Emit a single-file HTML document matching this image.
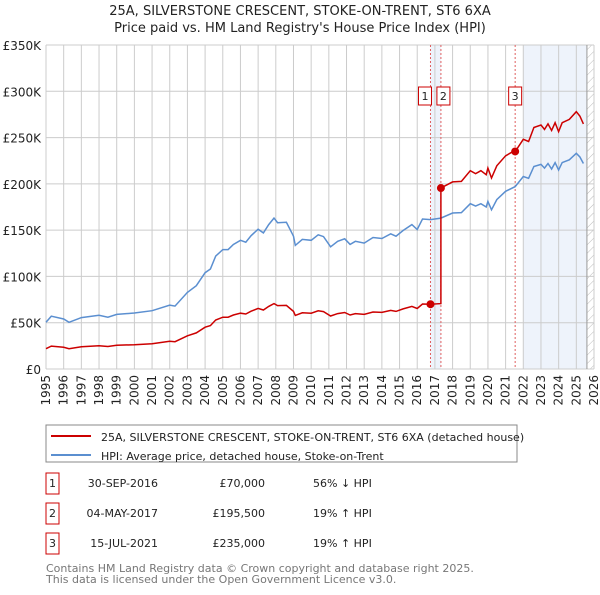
<!DOCTYPE html>
<html><head><meta charset="utf-8"><style>
body{margin:0;background:#fff;font-family:"Liberation Sans","DejaVu Sans",sans-serif;}
svg text{font-family:"DejaVu Sans","Liberation Sans",sans-serif;}
</style></head><body>
<svg id="c" width="600" height="590" xmlns="http://www.w3.org/2000/svg">
<defs><pattern id="hatch" width="6" height="6" patternUnits="userSpaceOnUse" patternTransform="rotate(45)"><line x1="0" y1="0" x2="0" y2="6" stroke="#bbb" stroke-width="1"/></pattern></defs>
<text x="300" y="15" text-anchor="middle" font-size="13" fill="#222">25A, SILVERSTONE CRESCENT, STOKE-ON-TRENT, ST6 6XA</text>
<text x="300" y="32" text-anchor="middle" font-size="13" fill="#222">Price paid vs. HM Land Registry's House Price Index (HPI)</text>
<g id="plot"></g>
<rect x="46" y="425" width="471" height="37" fill="#fff" stroke="#888"/>
<line x1="51" y1="436" x2="91" y2="436" stroke="#cc0000" stroke-width="2"/>
<text x="101" y="441" font-size="11" fill="#222">25A, SILVERSTONE CRESCENT, STOKE-ON-TRENT, ST6 6XA (detached house)</text>
<line x1="51" y1="455" x2="91" y2="455" stroke="#5b8fd0" stroke-width="2"/>
<text x="101" y="460" font-size="11" fill="#222">HPI: Average price, detached house, Stoke-on-Trent</text>
<g id="table" font-size="11" fill="#222"></g>
<text x="46" y="572" font-size="11" fill="#777">Contains HM Land Registry data © Crown copyright and database right 2025.</text>
<text x="46" y="583" font-size="11" fill="#777">This data is licensed under the Open Government Licence v3.0.</text>
</svg>
<script>
const hpiYears=[1995.0,1995.3,1996.0,1996.3,1997,1998,1998.5,1999,2000,2001,2002,2002.3,2003,2003.5,2004,2004.3,2004.6,2005,2005.3,2005.6,2006,2006.3,2006.6,2007,2007.3,2007.6,2007.9,2008.1,2008.6,2009.0,2009.1,2009.5,2010,2010.4,2010.7,2011.1,2011.5,2011.9,2012.2,2012.5,2013,2013.5,2014,2014.5,2014.8,2015.2,2015.7,2016.0,2016.3,2016.75,2017.34,2018,2018.5,2019,2019.3,2019.6,2019.9,2020.0,2020.2,2020.5,2021,2021.54,2022,2022.3,2022.6,2023,2023.2,2023.4,2023.6,2023.8,2024,2024.2,2024.6,2025,2025.2,2025.4];
const hpiValues=[50.5,57,54,50.5,55.5,58,56,59,60.5,63,69,68,82.7,90,104,108,122,129,129,134.5,139,137,144,151,147,156,163,158,158.5,143.5,133.5,140,139,145,143,132,138,140.7,134.6,138,136,142,141,146,143.5,149.6,156,150.7,162,161.4,163,168.5,169,178.6,176,178.6,175,181,172,183,192,197,208,206,218.7,221,217,222,216,223,215,223,226,233,229,222];
const saleLabels=["1","2","3"];
const saleYears=[2016.75,2017.34,2021.54];
const salePrices=[70,195.5,235];
const saleDates=["30-SEP-2016","04-MAY-2017","15-JUL-2021"];
const salePriceText=["£70,000","£195,500","£235,000"];
const saleHpiText=["56% ↓ HPI","19% ↑ HPI","19% ↑ HPI"];
const yTicks=[0,50,100,150,200,250,300,350];
const yTickLabels=["£0","£50K","£100K","£150K","£200K","£250K","£300K","£350K"];
const xTicks=[1995,1996,1997,1998,1999,2000,2001,2002,2003,2004,2005,2006,2007,2008,2009,2010,2011,2012,2013,2014,2015,2016,2017,2018,2019,2020,2021,2022,2023,2024,2025,2026];

const NS="http://www.w3.org/2000/svg";
const X0=46,X1=594,Y0=369,Y1=45;
const xs=y=>X0+(y-1995)/(2026-1995)*(X1-X0);
const ys=v=>Y0-v/350*(Y0-Y1);
const plot=document.getElementById('plot');
function el(tag,attrs,parent){const e=document.createElementNS(NS,tag);for(const k in attrs)e.setAttribute(k,attrs[k]);(parent||plot).appendChild(e);return e;}

let r=el('rect',{x:xs(saleYears[0]),y:Y1,width:xs(saleYears[1])-xs(saleYears[0]),height:Y0-Y1,fill:'#eef3fb'});


r=el('rect',{x:xs(2022),y:Y1,width:xs(2025.6)-xs(2022),height:Y0-Y1,fill:'#eef3fb'});


r=el('rect',{x:xs(2025.6),y:Y1,width:X1-xs(2025.6),height:Y0-Y1,fill:'url(#hatch)'});


yTicks.forEach((t,i)=>{
  const g=el('line',{x1:X0,x2:X1,y1:ys(t),y2:ys(t),stroke:'#ccc','stroke-width':1});
  
  
  const tx=el('text',{x:X0-5,y:ys(t)+5,'text-anchor':'end','font-size':12,fill:'#222'});
  tx.textContent=yTickLabels[i];
  
  
});
xTicks.forEach(t=>{
  const g=el('line',{x1:xs(t),x2:xs(t),y1:Y1,y2:Y0,stroke:'#ccc','stroke-width':1});
  
  
  const tx=el('text',{x:0,y:0,'text-anchor':'end','font-size':12,fill:'#222',transform:`translate(${xs(t)+4},${Y0+6}) rotate(-90)`});
  tx.textContent=t;
  
  
});
let ax=el('line',{x1:xs(2025.6),x2:xs(2025.6),y1:Y1,y2:Y0,stroke:'#999','stroke-width':1});


saleYears.forEach((s,i)=>{
  const l=el('line',{x1:xs(s),x2:xs(s),y1:Y1,y2:Y0,stroke:'#e06060','stroke-width':1,'stroke-dasharray':'2,2'});
  
  
});
const hp=hpiYears.map((y,i)=>`${xs(y).toFixed(1)},${ys(hpiValues[i]).toFixed(1)}`).join(' ');
const hl=el('polyline',{points:hp,fill:'none',stroke:'#5b8fd0','stroke-width':1.5});


function hpiAt(y){for(let i=1;i<hpiYears.length;i++){if(y<=hpiYears[i]){const t=(y-hpiYears[i-1])/(hpiYears[i]-hpiYears[i-1]);return hpiValues[i-1]+t*(hpiValues[i]-hpiValues[i-1]);}}return hpiValues[hpiValues.length-1];}
const bounds=[hpiYears[0]].concat(saleYears,[hpiYears[hpiYears.length-1]+0.001]);
const pts=[];
for(let seg=0;seg<bounds.length-1;seg++){
  const a=bounds[seg],b=bounds[seg+1];
  const base=seg===0?0:seg-1;
  const f=salePrices[base]/hpiAt(saleYears[base]);
  if(seg>0)pts.push([a,salePrices[seg-1]]);
  hpiYears.forEach((y,i)=>{if((seg===0?y>=a:y>a)&&y<b)pts.push([y,hpiValues[i]*f]);});
  if(seg<saleYears.length)pts.push([b,hpiAt(b)*f]);
}
const rl=el('polyline',{points:pts.map(p=>`${xs(p[0]).toFixed(1)},${ys(p[1]).toFixed(1)}`).join(' '),fill:'none',stroke:'#cc0000','stroke-width':1.5});


saleYears.forEach((s,i)=>{
  const c=el('circle',{cx:xs(s),cy:ys(salePrices[i]),r:4,fill:'#cc0000'});
  
  
  const w=13,bx=i===0?xs(s)-w+1:(i===1?xs(s)-3:xs(s)-w/2);
  const b=el('rect',{x:bx-(i===1?1:0),y:87,width:w,height:18,fill:'#fff',stroke:'#cc0000','stroke-width':1});
  
  
  const t=el('text',{x:bx+w/2-(i===1?1:0),y:100,'text-anchor':'middle','font-size':11,fill:'#222'});
  t.textContent=saleLabels[i];
  
  
});
const tb=document.getElementById('table');
saleLabels.forEach((l,i)=>{
  const y=483+i*30;
  const b=el('rect',{x:46,y:y-10,width:13,height:21,fill:'#fff',stroke:'#cc0000','stroke-width':1},tb);
  
  
  const cells=[[52.5,'middle',l],[158,'end',saleDates[i]],[265,'end',salePriceText[i]],[313,'start',saleHpiText[i]]];
  cells.forEach(([x,a,s],j)=>{
    const t=el('text',{x:x,y:y+4,'text-anchor':a,'font-size':11,fill:'#222'},tb);
    t.textContent=s;
    
    
  });
});
</script>
</body></html>
